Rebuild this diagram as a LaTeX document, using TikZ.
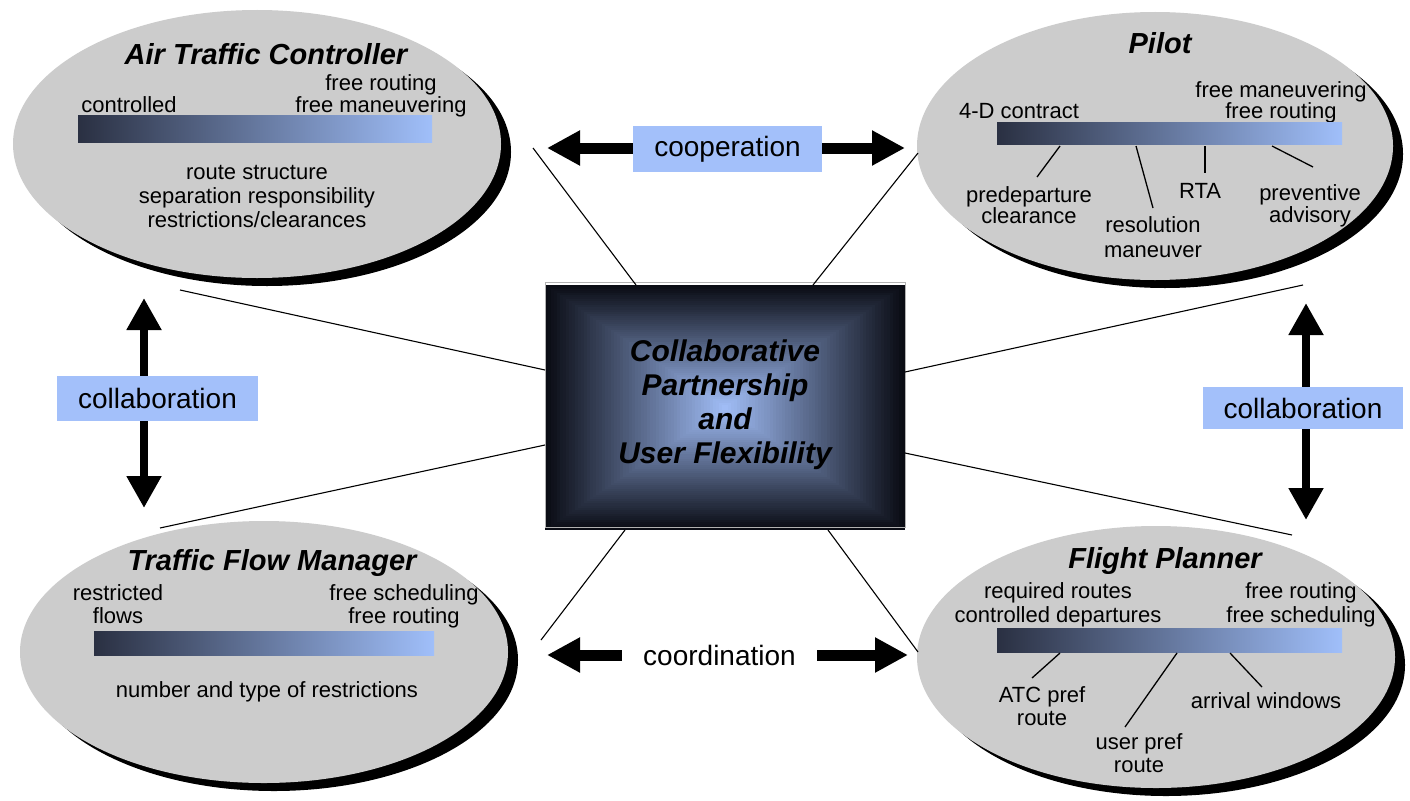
\documentclass[tikz,border=0pt]{standalone}
\usepackage{fontspec}
\setmainfont{Liberation Sans}
\usetikzlibrary{arrows.meta,shapes.geometric,shadows}
\definecolor{ellgray}{RGB}{204,204,204}
\definecolor{bardark}{RGB}{42,48,66}
\definecolor{barlight}{RGB}{160,191,250}
\definecolor{lblblue}{RGB}{163,192,250}
\definecolor{boxdark}{RGB}{10,12,20}
\definecolor{boxlight}{RGB}{163,192,250}
\begin{document}
\begin{tikzpicture}[x=1pt,y=-1pt,
  ellnode/.style={ellipse, fill=ellgray, inner sep=0pt, draw=none,
    drop shadow={shadow xshift=10pt, shadow yshift=-8pt, fill=black, opacity=1}},
  ttl/.style={font=\fontsize{29}{31}\selectfont\bfseries\itshape, inner sep=0pt, anchor=base},
  small/.style={font=\fontsize{22}{23}\selectfont, inner sep=0pt, anchor=base, align=center},
  bar/.style={rectangle, inner sep=0pt, left color=bardark, right color=barlight, draw=none},
  lblbox/.style={font=\fontsize{28}{30}\selectfont, inner sep=0pt, fill=lblblue},
  conn/.style={line width=1.1pt, black},
  tickline/.style={line width=1.3pt, black},
  harrow/.style={line width=11pt, {Triangle[length=33pt,width=33pt]}-{Triangle[length=33pt,width=33pt]}},
  varrow/.style={line width=8pt, {Triangle[length=32pt,width=33pt]}-{Triangle[length=32pt,width=33pt]}},
]
\useasboundingbox[fill=white] (0,0) rectangle (1410,800);

% ---------- ellipses ----------
\node (atc) [ellnode, minimum width=488pt, minimum height=268pt] at (257,144) {};
\node (pil) [ellnode, minimum width=476pt, minimum height=268pt] at (1155,146) {};
\node (tfm) [ellnode, minimum width=488pt, minimum height=262pt] at (264,652) {};
\node (fpl) [ellnode, minimum width=478pt, minimum height=262pt] at (1156,657) {};

% ---------- central box ----------
\foreach \i in {0,...,59}{
  \pgfmathsetmacro{\tt}{\i/60}
  \pgfmathtruncatemacro{\pp}{100*(\tt)^1.0}
  \fill[boxlight!\pp!boxdark] ({545+180*\tt},{285+122.5*\tt}) rectangle ({905-180*\tt},{530-122.5*\tt});
}
\node (core) [rectangle, minimum width=360pt, minimum height=245pt, inner sep=0pt,
  draw=gray!60, line width=0.8pt, align=center,
  font=\fontsize{30}{34}\selectfont\bfseries\itshape] at (725,405)
  {Collaborative\\Partnership\\and\\User Flexibility};

% ---------- connectors ----------
\coordinate (c1a) at (533,148);  \coordinate (c1b) at (636,285);
\coordinate (c2a) at (918,153);  \coordinate (c2b) at (813,285);
\coordinate (c3a) at (180,290);  \coordinate (c3b) at (545,370);
\coordinate (c4a) at (1303,285); \coordinate (c4b) at (905,372);
\coordinate (c5a) at (160,528);  \coordinate (c5b) at (545,445);
\coordinate (c6a) at (1292,535); \coordinate (c6b) at (905,453);
\coordinate (c7a) at (541,640);  \coordinate (c7b) at (625,530);
\coordinate (c8a) at (918,652);  \coordinate (c8b) at (828,530);
\foreach \k in {1,...,8}{\draw[conn] (c\k a) -- (c\k b);}

% ---------- arrows ----------
\coordinate (coopL) at (547,148); \coordinate (coopR) at (905,148);
\draw[harrow] (coopL) -- (coopR);
\node (coop) [lblbox, minimum width=189pt, minimum height=46pt] at (727.5,149) {cooperation};

\coordinate (coorL) at (547,655); \coordinate (coorR) at (908,655);
\draw[harrow] (coorL) -- (coorR);
\node (coor) [lblbox, fill=white, minimum width=195pt, minimum height=36pt] at (719.5,655) {coordination};

\coordinate (colLt) at (144,298); \coordinate (colLb) at (144,508);
\draw[varrow] (colLt) -- (colLb);
\node (colL) [lblbox, minimum width=201pt, minimum height=45pt] at (157.5,398.5) {collaboration};

\coordinate (colRt) at (1306,303); \coordinate (colRb) at (1306,520);
\draw[varrow] (colRt) -- (colRb);
\node (colR) [lblbox, minimum width=200pt, minimum height=42pt] at (1303,408) {collaboration};

% ---------- Air Traffic Controller ----------
\node (atct) [ttl] at (266,65) {Air Traffic Controller};
\node (atcr1) [small] at (381,90) {free routing};
\node (atcr2) [small] at (381,112) {free maneuvering};
\node (atcl) [small] at (129,112) {controlled};
\node (atcbar) [bar, minimum width=354pt, minimum height=27pt] at (255,128.5) {};
\node (atcd) [small, font=\fontsize{22}{24}\selectfont] at (257,227)
  {route structure\\separation responsibility\\restrictions/clearances};

% ---------- Pilot ----------
\node (pilt) [ttl] at (1160,53) {Pilot};
\node (pilr1) [small] at (1281,97) {free maneuvering};
\node (pilr2) [small] at (1281,118) {free routing};
\node (pill) [small] at (1019,118) {4-D contract};
\node (pilbar) [bar, minimum width=345pt, minimum height=22pt] at (1169.5,133) {};
\node (pd) [small, font=\fontsize{22}{21}\selectfont] at (1029,223) {predeparture\\clearance};
\node (rm) [small, font=\fontsize{22}{25}\selectfont] at (1153,257) {resolution\\maneuver};
\node (rta) [small] at (1200,198) {RTA};
\node (pa) [small, font=\fontsize{22}{22}\selectfont] at (1310,222) {preventive\\advisory};
\coordinate (p1a) at (1060,146); \coordinate (p1b) at (1037,177);
\coordinate (p2a) at (1136,146); \coordinate (p2b) at (1153,208);
\coordinate (p3a) at (1205,146); \coordinate (p3b) at (1205,173);
\coordinate (p4a) at (1272,146); \coordinate (p4b) at (1313,167);
\foreach \k in {1,...,4}{\draw[tickline] (p\k a) -- (p\k b);}

% ---------- Traffic Flow Manager ----------
\node (tfmt) [ttl] at (272,570) {Traffic Flow Manager};
\node (tfml) [small] at (118,623) {restricted\\flows};
\node (tfmr) [small] at (404,623) {free scheduling\\free routing};
\node (tfmbar) [bar, minimum width=340pt, minimum height=24pt] at (264,643) {};
\node (tfmd) [small] at (267,697) {number and type of restrictions};

% ---------- Flight Planner ----------
\node (fplt) [ttl] at (1165,568) {Flight Planner};
\node (fpll) [small, font=\fontsize{22}{24}\selectfont] at (1058,622) {required routes\\controlled departures};
\node (fplr) [small, font=\fontsize{22}{24}\selectfont] at (1301,622) {free routing\\free scheduling};
\node (fplbar) [bar, minimum width=345pt, minimum height=24pt] at (1169.5,640) {};
\node (atcp) [small] at (1042,725) {ATC pref\\route};
\node (usrp) [small] at (1139,772) {user pref\\route};
\node (arrw) [small] at (1266,708) {arrival windows};
\coordinate (f1a) at (1060,653); \coordinate (f1b) at (1032,678);
\coordinate (f2a) at (1177,653); \coordinate (f2b) at (1125,727);
\coordinate (f3a) at (1230,653); \coordinate (f3b) at (1262,687);
\foreach \k in {1,...,3}{\draw[tickline] (f\k a) -- (f\k b);}
\end{tikzpicture}
\end{document}
